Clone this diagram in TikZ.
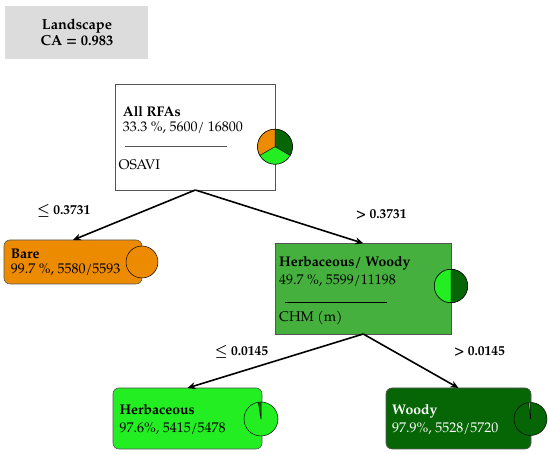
\documentclass[tikz,border=0pt]{standalone}
\usepackage{fontspec}
\setmainfont{texgyrepagella}[Extension=.otf,UprightFont=*-regular,BoldFont=*-bold,ItalicFont=*-italic,BoldItalicFont=*-bolditalic]
\usetikzlibrary{arrows.meta,calc}
\definecolor{lgray}{HTML}{DCDCDC}
\definecolor{orng}{HTML}{EC8A00}
\definecolor{midg}{HTML}{46B03E}
\definecolor{brg}{HTML}{22EE22}
\definecolor{dkg}{HTML}{066606}
\definecolor{bord}{HTML}{555555}
\tikzset{
  box/.style={draw=bord,line width=0.6pt,inner sep=0pt,outer sep=0pt},
  rbox/.style={box,rounded corners=6pt},
  txt/.style={anchor=base west,inner sep=0pt,font=\fontsize{#1}{#1}\selectfont},
  btxt/.style={anchor=base west,inner sep=0pt,font=\fontsize{#1}{#1}\selectfont\bfseries},
  lbl/.style={anchor=base,inner sep=0pt,font=\fontsize{13.5}{15}\selectfont\bfseries\boldmath},
  conn/.style={line width=1.6pt,-{Stealth[length=8pt,width=7pt]}},
  pie/.style={circle,draw=black,line width=0.5pt,inner sep=0pt,outer sep=0pt},
}
\begin{document}
\begin{tikzpicture}[x=1pt,y=1pt]
\useasboundingbox (0,0) rectangle (550,454);
% title
\node[box,draw=none,fill=lgray,minimum width=143pt,minimum height=53pt] (land) at (76.5,421.5) {};
\node[anchor=base,inner sep=0pt,font=\fontsize{14.5}{15}\selectfont\bfseries] (landt) at (77,424.7) {Landscape};
\node[anchor=base,inner sep=0pt,font=\fontsize{14.5}{15}\selectfont\bfseries] (landc) at (77,408.3) {CA = 0.983};
% root
\node[box,fill=white,minimum width=159.3pt,minimum height=105.7pt] (all) at (195.35,316.85) {};
\node[btxt=14] (allt) at (122.7,337.3) {All RFAs};
\node[txt=14] (alls) at (122.7,322.3) {33.3 \%, 5600/ 16800};
\coordinate (l1a) at (125,308);
\coordinate (l1b) at (227,308);
\draw[line width=0.5pt,bord] (l1a) -- (l1b);
\node[txt=14] (allv) at (118.3,284.7) {OSAVI};
\node[pie,minimum size=35pt] (pie1) at (275,307.3) {};
\fill[orng] (pie1.center) -- ++(90:17.5) arc[start angle=90,end angle=210,radius=17.5] -- cycle;
\fill[dkg] (pie1.center) -- ++(-30:17.5) arc[start angle=-30,end angle=90,radius=17.5] -- cycle;
\fill[brg] (pie1.center) -- ++(210:17.5) arc[start angle=210,end angle=330,radius=17.5] -- cycle;
\draw[line width=0.5pt] (pie1.center) -- ++(90:17.5) (pie1.center) -- ++(210:17.5) (pie1.center) -- ++(-30:17.5);
\draw[line width=0.5pt] (pie1.center) circle[radius=17.5];
% bare
\node[rbox,fill=orng,minimum width=138pt,minimum height=44pt] (bare) at (73,192) {};
\node[pie,fill=orng,minimum size=32pt] (pie2) at (142,192) {};
\node[btxt=14] (baret) at (10.7,195.7) {Bare};
\node[txt=14] (bares) at (10.7,180.7) {99.7 \%, 5580/5593};
% herb/woody
\node[box,fill=midg,minimum width=175.5pt,minimum height=90.7pt] (hw) at (363.25,165.35) {};
\node[btxt=14] (hwt) at (279,187) {Herbaceous/ Woody};
\node[txt=14] (hws) at (279,169) {49.7 \%, 5599/11198};
\coordinate (l2a) at (285,152);
\coordinate (l2b) at (387,152);
\draw[line width=0.5pt,black] (l2a) -- (l2b);
\node[txt=14] (hwv) at (279,132.3) {CHM (m)};
\node[pie,minimum size=33.4pt] (pie3) at (451,168) {};
\fill[brg] (pie3.center) -- ++(90:16.7) arc[start angle=90,end angle=270,radius=16.7] -- cycle;
\fill[dkg] (pie3.center) -- ++(-90:16.7) arc[start angle=-90,end angle=90,radius=16.7] -- cycle;
\draw[line width=0.5pt] (pie3.center) circle[radius=16.7] ($(pie3.center)+(0,16.7)$) -- ($(pie3.center)+(0,-16.7)$);
% herbaceous
\node[rbox,fill=brg,minimum width=149pt,minimum height=61pt] (herb) at (187.5,35.5) {};
\node[pie,fill=brg,minimum size=34pt] (pie4) at (261,35) {};
\fill[dkg] (pie4.center) -- ++(90:17) arc[start angle=90,end angle=99,radius=17] -- cycle;
\draw[line width=0.5pt] (pie4.center) -- ++(90:17) (pie4.center) -- ++(99:17);
\node[btxt=14] (herbt) at (119.3,39) {Herbaceous};
\node[txt=14] (herbs) at (119.3,21.3) {97.6\%, 5415/5478};
% woody
\node[rbox,fill=dkg,minimum width=145pt,minimum height=61pt] (wood) at (458.5,35.5) {};
\node[pie,fill=dkg,minimum size=33pt] (pie5) at (530.5,35) {};
\fill[brg] (pie5.center) -- ++(90:16.5) arc[start angle=90,end angle=97.5,radius=16.5] -- cycle;
\draw[line width=0.5pt] (pie5.center) -- ++(90:16.5) (pie5.center) -- ++(97.5:16.5);
\node[btxt=14,text=white] (woodt) at (392,39) {Woody};
\node[txt=14,text=white] (woods) at (392,21.3) {97.9\%, 5528/5720};
% connectors
\draw[conn] (all.south) -- (bare.north);
\draw[conn] (all.south) -- (hw.north);
\draw[conn] (hw.south) -- (herb.north);
\draw[conn] (hw.south) -- (wood.north);
% labels
\node[lbl] (c1) at (63.8,239) {$\leq$ 0.3731};
\node[lbl] (c2) at (381.2,235.7) {> 0.3731};
\node[lbl] (c3) at (241.5,98) {$\leq$ 0.0145};
\node[lbl] (c4) at (479.5,98) {> 0.0145};
\end{tikzpicture}
\end{document}
